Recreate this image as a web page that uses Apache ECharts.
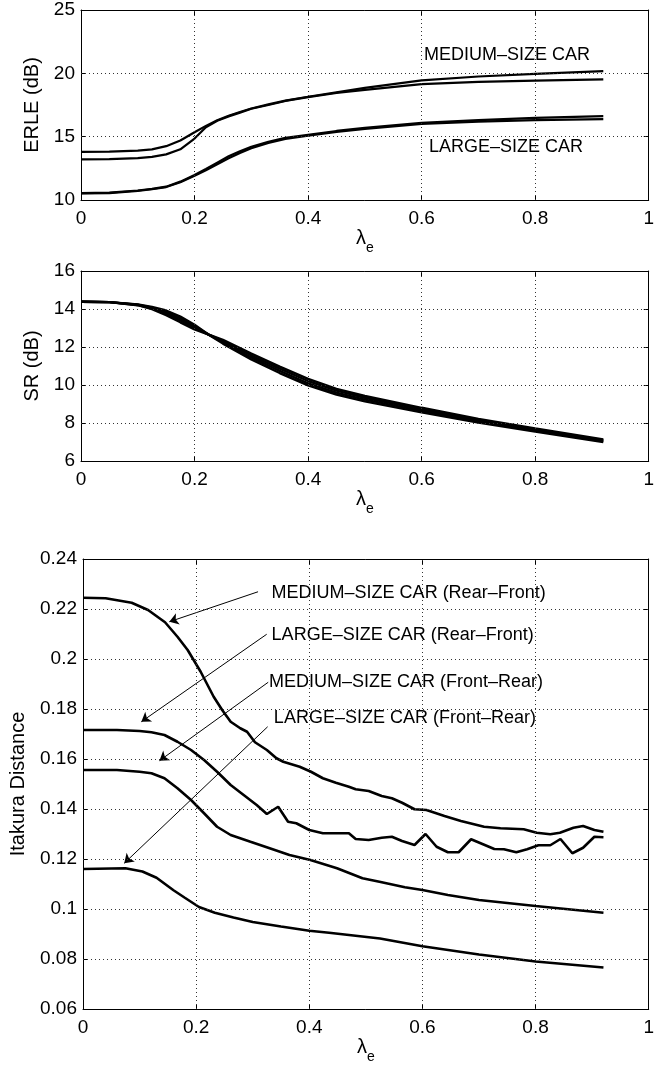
<!DOCTYPE html>
<html>
<head>
<meta charset="utf-8">
<script src="https://cdn.jsdelivr.net/npm/echarts@6/dist/echarts.min.js"></script>
<style>
  html, body { margin: 0; padding: 0; background: #fff; }
  #chart { width: 657px; height: 1066px; }
</style>
</head>
<body>
<div id="chart"></div>
<script>
// ---- ERLE (top panel) ----
const erleLambda   = [0, 0.05, 0.1, 0.125, 0.15, 0.175, 0.2, 0.22, 0.24, 0.26, 0.28, 0.3, 0.33, 0.36, 0.4, 0.45, 0.5, 0.6, 0.7, 0.8, 0.92];
const erleMediumA  = [13.8, 13.82, 13.9, 14.0, 14.25, 14.7, 15.35, 15.85, 16.3, 16.65, 16.95, 17.22, 17.55, 17.85, 18.15, 18.5, 18.85, 19.45, 19.75, 19.95, 20.18];
const erleMediumB  = [13.2, 13.22, 13.3, 13.4, 13.6, 14.0, 14.85, 15.75, 16.25, 16.6, 16.9, 17.2, 17.5, 17.82, 18.12, 18.45, 18.7, 19.15, 19.33, 19.42, 19.53];
const erleLargeA   = [10.55, 10.58, 10.75, 10.88, 11.05, 11.45, 11.97, 12.45, 12.95, 13.45, 13.85, 14.2, 14.6, 14.9, 15.15, 15.45, 15.7, 16.1, 16.3, 16.48, 16.62];
const erleLargeB   = [10.52, 10.55, 10.72, 10.85, 11.02, 11.4, 11.92, 12.35, 12.82, 13.3, 13.72, 14.08, 14.5, 14.82, 15.08, 15.38, 15.62, 16.0, 16.18, 16.3, 16.38];

// ---- SR (middle panel) ----
const srLambda = [0, 0.05, 0.1, 0.125, 0.15, 0.175, 0.2, 0.225, 0.25, 0.3, 0.35, 0.4, 0.45, 0.5, 0.6, 0.7, 0.8, 0.92];
const sr1 = [14.38, 14.36, 14.24, 14.11, 13.92, 13.60, 13.17, 12.65, 12.18, 11.35, 10.63, 9.98, 9.50, 9.14, 8.56, 8.02, 7.55, 7.00];
const sr2 = [14.38, 14.36, 14.23, 14.07, 13.84, 13.50, 13.09, 12.65, 12.25, 11.45, 10.74, 10.09, 9.60, 9.23, 8.64, 8.09, 7.60, 7.05];
const sr3 = [14.38, 14.36, 14.21, 14.03, 13.76, 13.40, 13.01, 12.65, 12.31, 11.55, 10.86, 10.21, 9.70, 9.33, 8.72, 8.15, 7.66, 7.09];
const sr4 = [14.38, 14.36, 14.20, 13.99, 13.68, 13.30, 12.93, 12.65, 12.38, 11.65, 10.97, 10.32, 9.80, 9.42, 8.80, 8.22, 7.71, 7.14];

// ---- Itakura distance (bottom panel), [lambda_e, distance] ----
const mediumRearFront = [[0,0.2245],[0.04,0.2243],[0.086,0.2225],[0.115,0.2196],[0.145,0.2147],[0.167,0.2089],[0.185,0.2036],[0.208,0.1949],[0.231,0.1849],[0.246,0.1796],[0.261,0.1749],[0.278,0.1723],[0.29,0.1709],[0.304,0.1667],[0.325,0.1636],[0.342,0.1603],[0.354,0.1589],[0.383,0.1569],[0.403,0.1549],[0.424,0.1523],[0.447,0.1505],[0.47,0.1489],[0.482,0.1479],[0.505,0.1472],[0.528,0.1452],[0.546,0.1443],[0.564,0.1425],[0.586,0.1399],[0.607,0.1396],[0.639,0.1372],[0.668,0.1352],[0.709,0.1329],[0.738,0.1323],[0.779,0.1319],[0.802,0.1305],[0.826,0.1299],[0.843,0.1305],[0.867,0.1325],[0.884,0.1332],[0.904,0.1316],[0.92,0.1309]];
const largeRearFront = [[0,0.1716],[0.06,0.1716],[0.1,0.1712],[0.121,0.1707],[0.144,0.1696],[0.167,0.1669],[0.191,0.1636],[0.214,0.1596],[0.237,0.1549],[0.261,0.1496],[0.284,0.1456],[0.307,0.1416],[0.325,0.138],[0.345,0.1409],[0.3625,0.1349],[0.377,0.1343],[0.4,0.1316],[0.424,0.1303],[0.47,0.1303],[0.482,0.128],[0.505,0.1276],[0.528,0.1285],[0.546,0.1289],[0.564,0.1272],[0.586,0.1256],[0.6055,0.13],[0.625,0.1249],[0.645,0.1227],[0.664,0.1227],[0.686,0.1279],[0.706,0.126],[0.727,0.124],[0.744,0.1239],[0.766,0.1227],[0.785,0.1239],[0.805,0.1255],[0.826,0.1255],[0.844,0.128],[0.865,0.1223],[0.884,0.1245],[0.904,0.1289],[0.92,0.1287]];
const mediumFrontRear = [[0,0.1556],[0.06,0.1556],[0.1,0.1549],[0.121,0.1543],[0.144,0.1523],[0.167,0.1483],[0.191,0.1436],[0.214,0.1383],[0.237,0.1329],[0.261,0.1296],[0.296,0.1269],[0.33,0.1243],[0.365,0.1216],[0.402,0.1196],[0.449,0.1163],[0.494,0.1123],[0.524,0.1109],[0.569,0.1087],[0.6,0.1076],[0.645,0.1056],[0.7,0.1036],[0.8,0.1012],[0.92,0.0985]];
const largeFrontRear = [[0,0.116],[0.075,0.1163],[0.105,0.115],[0.13,0.1125],[0.16,0.1075],[0.18,0.1045],[0.205,0.1008],[0.233,0.0985],[0.266,0.0966],[0.3,0.0948],[0.35,0.093],[0.4,0.0913],[0.435,0.0905],[0.525,0.0882],[0.6,0.0851],[0.7,0.0818],[0.8,0.079],[0.92,0.0766]];

// annotation texts (left anchor, data units) and arrows [tail, head]
const erleNotes = [
  { text: 'MEDIUM\u2013SIZE CAR', at: [0.604, 21.45] },
  { text: 'LARGE\u2013SIZE CAR',  at: [0.613, 14.21] }
];
const itakuraNotes = [
  { text: 'MEDIUM\u2013SIZE CAR (Rear\u2013Front)', at: [0.3334, 0.2264], tail: [0.3094, 0.2269], head: [0.1526, 0.2149] },
  { text: 'LARGE\u2013SIZE CAR (Rear\u2013Front)',  at: [0.3334, 0.2096], tail: [0.3247, 0.2099], head: [0.1031, 0.1749] },
  { text: 'MEDIUM\u2013SIZE CAR (Front\u2013Rear)', at: [0.3287, 0.1909], tail: [0.3274, 0.1907], head: [0.1351, 0.1593] },
  { text: 'LARGE\u2013SIZE CAR (Front\u2013Rear)',  at: [0.3374, 0.1763], tail: [0.3264, 0.1729], head: [0.0729, 0.1183] }
];

const FONT = '"Liberation Sans", Arial, Helvetica, sans-serif';
const zip = (xs, ys) => xs.map((x, i) => [x, ys[i]]);

const LAMBDA_MIN = 0, LAMBDA_MAX = 1, LAMBDA_STEP = 0.2;
const panels = [
  { top: 10,  height: 190, min: 10,   max: 25,   step: 5,    name: 'ERLE (dB)',        nameGap: 28 },
  { top: 271, height: 190, min: 6,    max: 16,   step: 2,    name: 'SR (dB)',          nameGap: 28 },
  { top: 559, height: 450, min: 0.06, max: 0.24, step: 0.02, name: 'Itakura Distance', nameGap: 55 }
];

// interior tick values of an axis, used for the dotted grid
function innerTicks(min, max, step) {
  const out = [];
  for (let k = 1; min + k * step < max - step / 2; k++) out.push(Math.round((min + k * step) * 1e6) / 1e6);
  return out;
}

const grid = [], xAxis = [], yAxis = [];
const frame = () => ({ show: true, onZero: false, lineStyle: { color: '#000', width: 1 } });
const ticks = () => ({ show: true, inside: true, length: 5, lineStyle: { color: '#000' } });

panels.forEach((p, i) => {
  grid.push({ left: 81, top: p.top, width: 572, height: p.height });
  xAxis.push({
    type: 'value', gridIndex: i, position: 'bottom', min: LAMBDA_MIN, max: LAMBDA_MAX, interval: LAMBDA_STEP,
    name: '{l|\u03bb}{s|e}', nameLocation: 'middle', nameGap: 27,
    nameTextStyle: { rich: {
      l: { fontSize: 20, fontFamily: FONT, color: '#000', verticalAlign: 'top' },
      s: { fontSize: 14, fontFamily: FONT, color: '#000', verticalAlign: 'bottom', padding: [12, 0, 0, 0] }
    } },
    axisLine: frame(), axisTick: ticks(),
    axisLabel: { color: '#000', fontSize: 19, fontFamily: FONT, margin: 9 },
    splitLine: { show: false }
  });
  xAxis.push({
    type: 'value', gridIndex: i, position: 'top', min: LAMBDA_MIN, max: LAMBDA_MAX, interval: LAMBDA_STEP,
    axisLine: frame(), axisTick: ticks(),
    axisLabel: { show: false }, splitLine: { show: false }
  });
  yAxis.push({
    type: 'value', gridIndex: i, position: 'left', min: p.min, max: p.max, interval: p.step,
    name: p.name, nameLocation: 'middle', nameGap: p.nameGap,
    nameTextStyle: { color: '#000', fontSize: 20, fontFamily: FONT },
    axisLine: frame(), axisTick: ticks(),
    axisLabel: { color: '#000', fontSize: 19, fontFamily: FONT, margin: 6 },
    splitLine: { show: false }
  });
  yAxis.push({
    type: 'value', gridIndex: i, position: 'right', min: p.min, max: p.max, interval: p.step,
    axisLine: frame(), axisTick: ticks(),
    axisLabel: { show: false }, splitLine: { show: false }
  });
});

function curve(panel, data, width) {
  return {
    type: 'line', xAxisIndex: panel * 2, yAxisIndex: panel * 2, data: data,
    showSymbol: false, symbol: 'none', silent: true,
    lineStyle: { color: '#000', width: width }, z: 3
  };
}

// dotted grid of one panel, drawn as reference lines at the axis ticks
function gridLines(p) {
  const d = innerTicks(LAMBDA_MIN, LAMBDA_MAX, LAMBDA_STEP).map(v => ({ xAxis: v }))
    .concat(innerTicks(p.min, p.max, p.step).map(v => ({ yAxis: v })));
  return {
    silent: true, animation: false, symbol: ['none', 'none'],
    label: { show: false },
    lineStyle: { color: '#333333', width: 1, type: [1, 3] },
    emphasis: { disabled: true },
    data: d
  };
}

function notes(list) {
  return list.map(n => ({
    coord: n.at, symbol: 'circle', symbolSize: 0,
    label: { show: true, position: 'right', distance: 0, formatter: n.text,
             color: '#000', fontSize: 18, fontFamily: FONT }
  }));
}

const series = [
  curve(0, zip(erleLambda, erleMediumA), 2.2),
  curve(0, zip(erleLambda, erleMediumB), 2.2),
  curve(0, zip(erleLambda, erleLargeA), 2.2),
  curve(0, zip(erleLambda, erleLargeB), 2.2),
  curve(1, zip(srLambda, sr1), 2.4),
  curve(1, zip(srLambda, sr2), 2.4),
  curve(1, zip(srLambda, sr3), 2.4),
  curve(1, zip(srLambda, sr4), 2.4),
  curve(2, mediumRearFront, 2.6),
  curve(2, largeRearFront, 2.6),
  curve(2, mediumFrontRear, 2.6),
  curve(2, largeFrontRear, 2.6)
];

series[1].markLine = gridLines(panels[0]);
series[4].markLine = gridLines(panels[1]);
series[9].markLine = gridLines(panels[2]);

series[0].markPoint = { silent: true, animation: false, data: notes(erleNotes) };
series[8].markPoint = { silent: true, animation: false, data: notes(itakuraNotes) };
series[8].markLine = {
  silent: true, animation: false, symbol: ['none', 'arrow'], symbolSize: 9,
  label: { show: false },
  lineStyle: { color: '#000', width: 1, type: 'solid' },
  data: itakuraNotes.map(n => [{ coord: n.tail }, { coord: n.head }])
};

const chart = echarts.init(document.getElementById('chart'), null, { renderer: 'canvas' });
chart.setOption({
  animation: false,
  backgroundColor: '#fff',
  grid, xAxis, yAxis, series
});
</script>
</body>
</html>
